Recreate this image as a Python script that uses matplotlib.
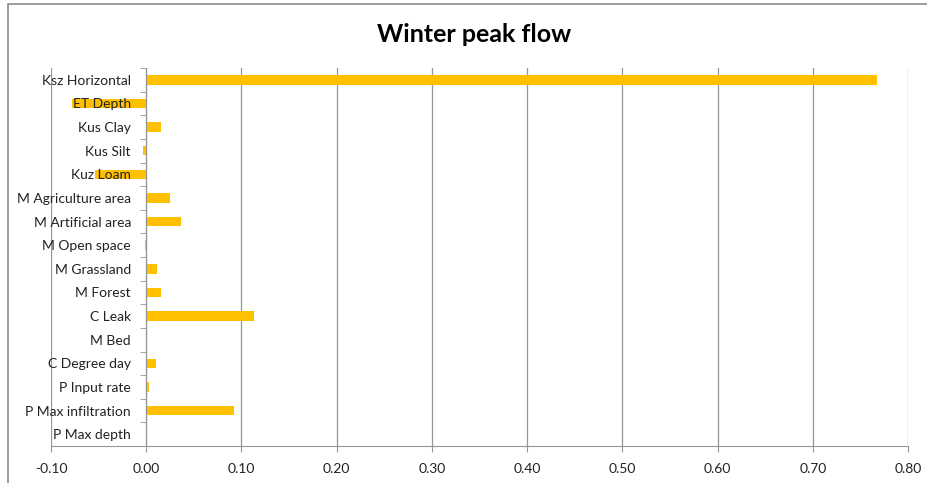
import matplotlib.pyplot as plt
from matplotlib.patches import Rectangle
from matplotlib.ticker import FixedLocator

labels = ['Ksz Horizontal', 'ET Depth', 'Kus Clay', 'Kus Silt', 'Kuz Loam',
          'M Agriculture area', 'M Artificial area', 'M Open space',
          'M Grassland', 'M Forest', 'C Leak', 'M Bed', 'C Degree day',
          'P Input rate', 'P Max infiltration', 'P Max depth']
values = [0.767, -0.078, 0.016, -0.003, -0.054,
          0.025, 0.037, -0.001,
          0.0115, 0.015, 0.1127, 0.0, 0.0098,
          0.0028, 0.0924, 0.0]
xticks = [-0.1, 0.0, 0.1, 0.2, 0.3, 0.4, 0.5, 0.6, 0.7, 0.8]

plt.rcParams['font.family'] = ['Lato', 'DejaVu Sans']

W, H = 927, 483
fig = plt.figure(figsize=(W / 100, H / 100), dpi=100)
ax = fig.add_axes([51 / W, 1 - 446 / H, (908 - 51) / W, (446 - 68) / H])

pos = list(range(len(labels)))
ax.barh(pos, values, height=0.4, color='#FFC000', zorder=3)

ax.set_xlim(-0.1, 0.8)
ax.set_ylim(len(labels) - 0.5, -0.5)
ax.set_xticks(xticks)
ax.set_xticklabels(['%.2f' % t for t in xticks], fontsize=10, color='#222222')
ax.grid(axis='x', color='#969696', linewidth=0.9, zorder=0)
ax.grid(axis='y', visible=False)

# category axis at zero, tick marks between categories, labels over the bars
ax.spines['left'].set_position(('data', 0))
ax.spines['left'].set_color('#969696')
ax.spines['left'].set_zorder(4)
ax.spines['top'].set_visible(False)
ax.spines['right'].set_visible(False)
ax.spines['bottom'].set_color('#969696')
ax.set_yticks(pos)
ax.set_yticklabels(labels, fontsize=10, color='#222222')
ax.yaxis.set_minor_locator(FixedLocator([p - 0.5 for p in pos] + [len(labels) - 0.5]))
ax.tick_params(axis='y', which='major', length=0, pad=11)
ax.tick_params(axis='y', which='minor', length=4, color='#969696', direction='out')
ax.tick_params(axis='x', length=4, color='#969696', pad=8)
ax.yaxis.set_zorder(5)

fig.text(474 / W, 1 - 35 / H, 'Winter peak flow', ha='center', va='center',
         fontsize=18, fontweight='bold')

fig.patches.append(Rectangle((8 / W, -0.1), 1.2, 1 - 4 / H + 0.1,
                             transform=fig.transFigure, fill=False,
                             edgecolor='#8c8c8c', linewidth=1.2))

plt.savefig('out.png', dpi=100)
